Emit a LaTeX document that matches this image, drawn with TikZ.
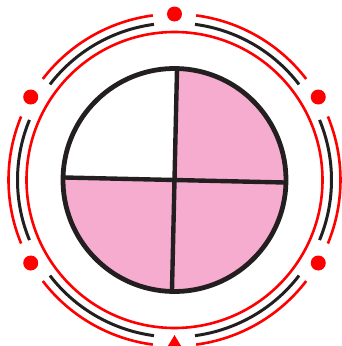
\documentclass[tikz,border=0pt]{standalone}
\usepackage{xcolor}
\usepackage{tikz}

\definecolor{ringred}{RGB}{255,0,0}
\definecolor{rimdark}{RGB}{35,31,32}
\definecolor{quarterpink}{RGB}{245,172,206}

\begin{document}
\begin{tikzpicture}[x=1pt, y=1pt]

    % Frame of the picture (centre of the circles at the origin)
    \useasboundingbox (-174.5,-166) rectangle (167.5,180);
    \clip (-174.5,-166) rectangle (167.5,180);

    % Radii
    \def\Rdisc{111.5}
    \def\Rring{148}
    \def\Rblack{157}
    \def\Router{166}

    % Inner red ring
    \draw[ringred, line width=2.6pt] (0,0) circle[radius=\Rring];

    % Broken rings between the markers
    \foreach \a in {-22.5,37.5,97.5,157.5,217.5,277.5} {
        \draw[rimdark, line width=3pt] (\a:\Rblack) arc[start angle=\a, end angle=\a+45, radius=\Rblack];
        \draw[ringred, line width=2.6pt] (\a:\Router) arc[start angle=\a, end angle=\a+45, radius=\Router];
    }

    % Red markers on the outer ring
    \foreach \a in {30,90,150,210,330}
        \fill[ringred] (\a:\Router) circle[radius=7.5];
    \fill[ringred] (0,-155) -- (9,-170) -- (-9,-170) -- cycle;

    % Quartered disc (slightly turned)
    \begin{scope}[rotate=-1.3]
        \fill[quarterpink] (0,0) -- (0:\Rdisc) arc[start angle=0, end angle=90, radius=\Rdisc] -- cycle;
        \fill[quarterpink] (0,0) -- (180:\Rdisc) arc[start angle=180, end angle=360, radius=\Rdisc] -- cycle;
        \draw[rimdark, line width=4.4pt] (-\Rdisc,0) -- (\Rdisc,0);
        \draw[rimdark, line width=4.4pt] (0,-\Rdisc) -- (0,\Rdisc);
        \draw[rimdark, line width=4.8pt] (0,0) circle[radius=\Rdisc];
    \end{scope}

\end{tikzpicture}
\end{document}
